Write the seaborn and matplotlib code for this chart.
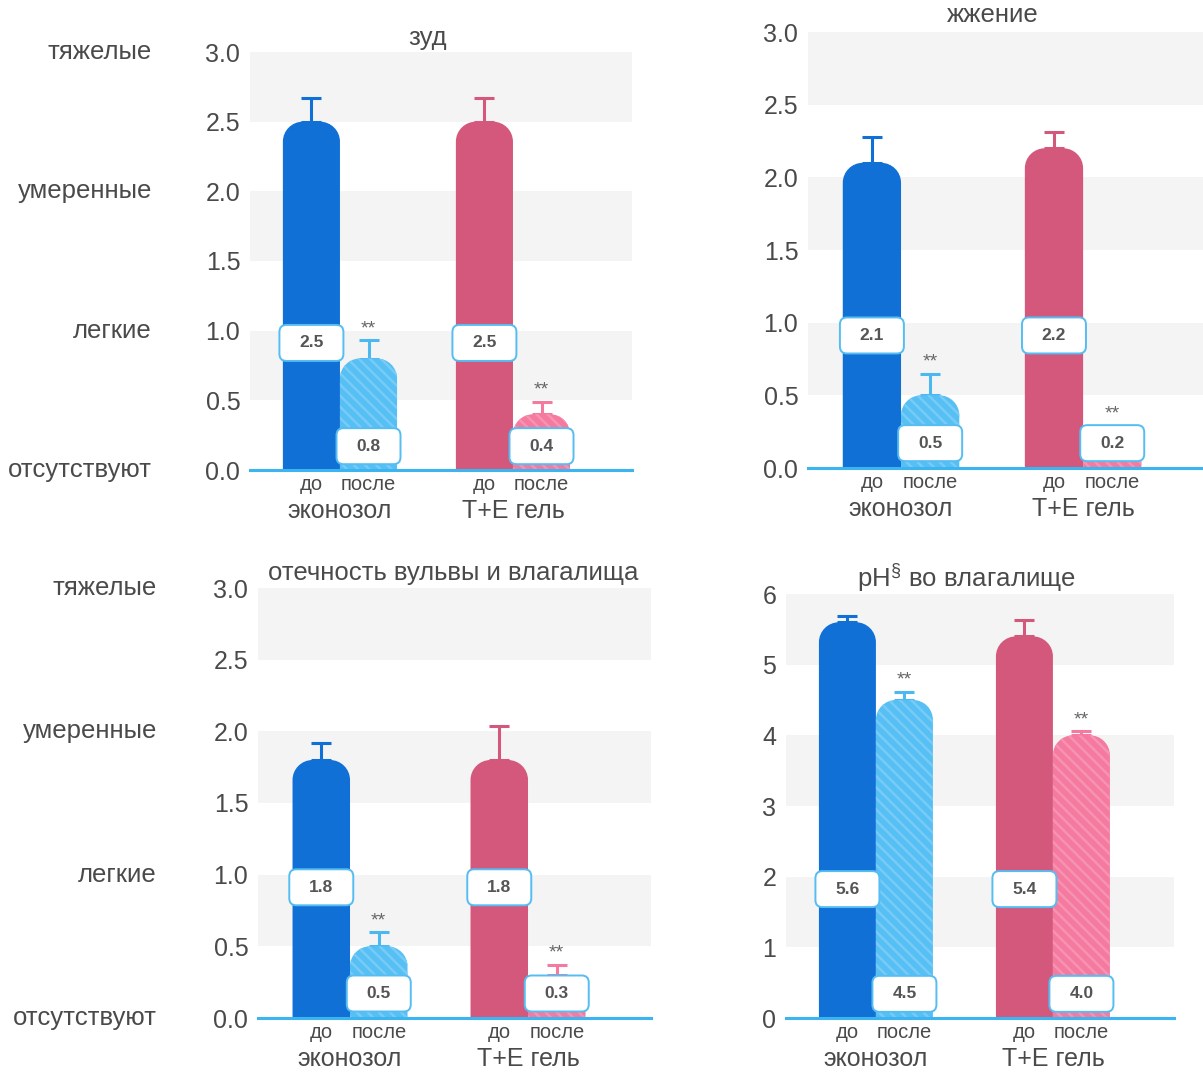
import numpy as np
import pandas as pd
import matplotlib
matplotlib.use("Agg")
import matplotlib.pyplot as plt
import matplotlib.transforms as mtransforms
from matplotlib.path import Path
from matplotlib.patches import PathPatch, FancyBboxPatch
import seaborn as sns

# ---- data -------------------------------------------------------------
groups = ["эконозол", "T+E гель"]
phases = ["до", "после"]
severity_labels = ["отсутствуют", "легкие", "умеренные", "тяжелые"]
severity_levels = [0.0, 1.0, 2.0, 3.0]

itch_before = [2.5, 2.5]
itch_after = [0.8, 0.4]
itch_before_sd = [0.17, 0.17]
itch_after_sd = [0.13, 0.09]

burning_before = [2.1, 2.2]
burning_after = [0.5, 0.2]
burning_before_sd = [0.18, 0.11]
burning_after_sd = [0.15, 0.09]

edema_before = [1.8, 1.8]
edema_after = [0.5, 0.3]
edema_before_sd = [0.12, 0.24]
edema_after_sd = [0.1, 0.07]

ph_before = [5.6, 5.4]
ph_after = [4.5, 4.0]
ph_before_sd = [0.09, 0.23]
ph_after_sd = [0.12, 0.06]

titles = ["зуд", "жжение", "отечность вульвы и влагалища",
          "pH$^{\\mathregular{§}}$ во влагалище"]

# ---- style ------------------------------------------------------------
sns.set_theme(style="white")
plt.rcParams["font.family"] = ["Liberation Sans", "DejaVu Sans"]
plt.rcParams["mathtext.fontset"] = "custom"
plt.rcParams["mathtext.rm"] = "Liberation Sans"
plt.rcParams["hatch.linewidth"] = 1.8

TEXT = "#4a4a4a"
BAND = "#f4f4f4"
AXIS = "#3bb4f0"
BOX_EDGE = "#55bdf2"
FILL = [["#1170d6", "#56bff4"], ["#d3587b", "#f47a9f"]]
HATCH = [[None, "#78cbf7"], [None, "#f892b2"]]
ERR = [["#1170d6", "#4db8f0"], ["#d3587b", "#f47a9f"]]

FS_TICK = 18
FS_LABEL = 18.5
FS_GROUP = 18
FS_SUB = 14.5

W, H = 1203, 1072
fig = plt.figure(figsize=(W / 100, H / 100), dpi=100)


def rect(left, right, top, bottom):
    return [left / W, 1 - bottom / H, (right - left) / W, (bottom - top) / H]


panels = [
    dict(rect=rect(250, 632, 52, 470), xlim=(-0.52, 1.688), ylim=(0, 3),
         ticks=np.arange(0, 3.01, 0.5), fmt="{:.1f}",
         bands=[(0.5, 1.0), (1.5, 2.0), (2.5, 3.0)],
         before=itch_before, after=itch_after,
         bsd=itch_before_sd, asd=itch_after_sd,
         title=titles[0], tx=0.466, ty=14, severity=True, width=0.66),
    dict(rect=rect(808, 1206, 32, 468), xlim=(-0.511, 1.675), ylim=(0, 3),
         ticks=np.arange(0, 3.01, 0.5), fmt="{:.1f}",
         bands=[(0.5, 1.0), (1.5, 2.0), (2.5, 3.0)],
         before=burning_before, after=burning_after,
         bsd=burning_before_sd, asd=burning_after_sd,
         title=titles[1], tx=0.465, ty=17, severity=False, width=0.64),
    dict(rect=rect(258, 651, 588, 1018), xlim=(-0.517, 1.691), ylim=(0, 3),
         ticks=np.arange(0, 3.01, 0.5), fmt="{:.1f}",
         bands=[(0.5, 1.0), (1.5, 2.0), (2.5, 3.0)],
         before=edema_before, after=edema_after,
         bsd=edema_before_sd, asd=edema_after_sd,
         title=titles[2], tx=0.496, ty=15, severity=True, width=0.646),
    dict(rect=rect(786, 1174, 594, 1018), xlim=(-0.508, 1.684), ylim=(0, 6),
         ticks=np.arange(0, 7, 1), fmt="{:.0f}",
         bands=[(1, 2), (3, 4), (5, 6)],
         before=ph_before, after=ph_after,
         bsd=ph_before_sd, asd=ph_after_sd,
         title=titles[3], tx=0.464, ty=16, severity=False, width=0.644),
]


def rounded_top_path(ax, x0, w, h, r_px=20):
    p0 = ax.transData.transform((0, 0))
    p1 = ax.transData.transform((1, 1))
    sx, sy = p1[0] - p0[0], p1[1] - p0[1]
    rx = min(r_px / sx, w / 2)
    ry = min(r_px / sy, h)
    k = 0.5523
    verts = [(x0, 0), (x0, h - ry), (x0, h - ry + k * ry), (x0 + rx - k * rx, h),
             (x0 + rx, h), (x0 + w - rx, h), (x0 + w - rx + k * rx, h),
             (x0 + w, h - ry + k * ry), (x0 + w, h - ry), (x0 + w, 0), (x0, 0)]
    codes = [Path.MOVETO, Path.LINETO, Path.CURVE4, Path.CURVE4, Path.CURVE4,
             Path.LINETO, Path.CURVE4, Path.CURVE4, Path.CURVE4, Path.LINETO,
             Path.CLOSEPOLY]
    return Path(verts, codes)


def value_box(ax, x, yfrac, text):
    base = ax.get_xaxis_transform()
    trans = fig.dpi_scale_trans + mtransforms.ScaledTranslation(x, yfrac, base)
    box = FancyBboxPatch((-0.32, -0.18), 0.64, 0.36,
                         boxstyle="round,pad=0,rounding_size=0.07",
                         transform=trans, facecolor="white",
                         edgecolor=BOX_EDGE, linewidth=1.4, zorder=6,
                         clip_on=False)
    ax.add_patch(box)
    ax.text(0, 0, text, transform=trans, ha="center", va="center",
            fontsize=12.5, fontweight="bold", color="#555555", zorder=7)


for p in panels:
    ax = fig.add_axes(p["rect"])
    df = pd.DataFrame({
        "group": np.repeat(groups, 2),
        "phase": phases * 2,
        "value": [p["before"][0], p["after"][0], p["before"][1], p["after"][1]],
    })
    sns.barplot(data=df, x="group", y="value", hue="phase", order=groups,
                hue_order=phases, width=p["width"], gap=0, errorbar=None,
                saturation=1, legend=False, ax=ax)
    ax.set_xlim(*p["xlim"])
    ax.set_ylim(*p["ylim"])

    for lo, hi in p["bands"]:
        ax.axhspan(lo, hi, color=BAND, zorder=0, lw=0)

    sds = [p["bsd"], p["asd"]]
    bar_containers = list(ax.containers)
    for hi_idx, cont in enumerate(bar_containers):
        for bar in cont.patches:
            x0, w, h = bar.get_x(), bar.get_width(), bar.get_height()
            xc = x0 + w / 2
            gi = int(round(xc))
            bar.set_visible(False)
            hatch_col = HATCH[gi][hi_idx]
            patch = PathPatch(rounded_top_path(ax, x0, w, h),
                              facecolor=FILL[gi][hi_idx],
                              edgecolor=hatch_col if hatch_col else FILL[gi][hi_idx],
                              linewidth=0, zorder=3,
                              hatch="\\\\\\" if hatch_col else None)
            ax.add_patch(patch)
            sd = sds[hi_idx][gi]
            ax.errorbar(xc, h, yerr=[[0], [sd]], fmt="none",
                        ecolor=ERR[gi][hi_idx], elinewidth=2.2, capsize=7.5,
                        capthick=2.2, zorder=2)
            if hi_idx == 1:
                ax.annotate("**", xy=(xc, h + sd), xytext=(0, 3),
                            textcoords="offset pixels", ha="center",
                            va="bottom", fontsize=14, color="#666666",
                            zorder=5)
                value_box(ax, xc, 0.057, f"{h:.1f}")
            else:
                value_box(ax, xc, 0.304, f"{h:.1f}")
            ax.annotate(phases[hi_idx], xy=(xc, 0),
                        xycoords=("data", "axes fraction"), xytext=(0, -15),
                        textcoords="offset pixels", ha="center", va="center",
                        fontsize=FS_SUB, color=TEXT)

    for gi, g in enumerate(groups):
        ax.annotate(g, xy=(gi, 0), xycoords=("data", "axes fraction"),
                    xytext=(0, -41), textcoords="offset pixels", ha="center",
                    va="center", fontsize=FS_GROUP, color=TEXT)

    ax.set_xlabel("")
    ax.set_ylabel("")
    ax.set_xticks([])
    ax.set_yticks(p["ticks"])
    ax.set_yticklabels([p["fmt"].format(t) for t in p["ticks"]])
    ax.tick_params(axis="y", length=0, pad=7, labelsize=FS_TICK, labelcolor=TEXT)
    for side in ["left", "right", "top"]:
        ax.spines[side].set_visible(False)
    ax.spines["bottom"].set_color(AXIS)
    ax.spines["bottom"].set_linewidth(2.2)
    ax.spines["bottom"].set_zorder(8)

    ax.annotate(p["title"], xy=(p["tx"], 1), xycoords="axes fraction",
                xytext=(0, p["ty"]), textcoords="offset pixels", ha="center",
                va="center", fontsize=FS_LABEL, color=TEXT)

    if p["severity"]:
        for lvl, lab in zip(severity_levels, severity_labels):
            ax.text(-0.257, lvl, lab, transform=ax.get_yaxis_transform(),
                    ha="right", va="center", fontsize=FS_LABEL, color=TEXT)

fig.savefig("out.png", dpi=100)
